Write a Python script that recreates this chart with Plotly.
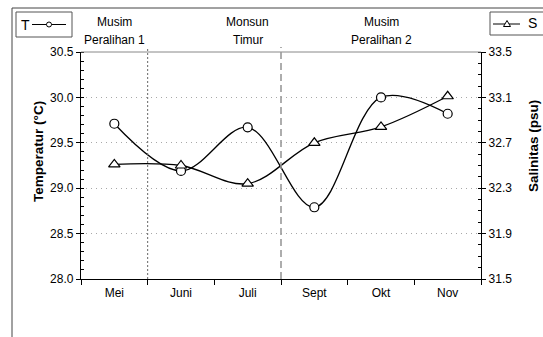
import plotly.graph_objects as go

# Monthly observations
months = ["Mei", "Juni", "Juli", "Sept", "Okt", "Nov"]
temperature = [29.71, 29.19, 29.67, 28.79, 30.00, 29.82]   # °C
salinity = [32.51, 32.50, 32.34, 32.70, 32.84, 33.11]      # psu

seasons = [("Mei", "Musim", "Peralihan 1"),
           ("Juli", "Monsun", "Timur"),
           ("Okt", "Musim", "Peralihan 2")]

W, H = 543, 337
L, R, T, B = 81, 481, 52, 279  # plot area in pixels


def px(xp):
    return (xp - L) / (R - L)


def py(yp):
    return (B - yp) / (B - T)


FONT = "Liberation Sans, Arial, sans-serif"

fig = go.Figure()

fig.add_trace(go.Scatter(
    x=months, y=temperature, name="T", mode="lines+markers",
    line=dict(color="black", width=1.3, shape="spline", smoothing=1.0),
    marker=dict(symbol="circle", size=9, color="white",
                line=dict(color="black", width=1.2)),
    yaxis="y", showlegend=False))

fig.add_trace(go.Scatter(
    x=months, y=salinity, name="S", mode="lines+markers",
    line=dict(color="black", width=1.3, shape="spline", smoothing=1.0),
    marker=dict(symbol="triangle-up", size=10, color="white",
                line=dict(color="black", width=1.2)),
    yaxis="y2", showlegend=False))

shapes = []
annotations = []

# outer frame (open to the right and bottom)
shapes.append(dict(type="rect", xref="paper", yref="paper",
                   x0=px(12), x1=px(600), y0=py(8), y1=py(400),
                   line=dict(color="#444", width=1)))
# top border of the plot area
shapes.append(dict(type="line", xref="paper", yref="paper",
                   x0=0, x1=1, y0=1, y1=1,
                   line=dict(color="#888", width=1)))
# season separators
shapes.append(dict(type="line", xref="x", yref="paper", x0=0.5, x1=0.5,
                   y0=0, y1=py(47), line=dict(color="#666", width=1, dash="2px,2px")))
shapes.append(dict(type="line", xref="x", yref="paper", x0=2.5, x1=2.5,
                   y0=0, y1=py(47), line=dict(color="#999", width=1.6, dash="7px,4px")))

# season labels
for m, l1, l2 in seasons:
    annotations.append(dict(x=m, xref="x", y=py(22), yref="paper", text=l1,
                            showarrow=False, font=dict(size=12, family=FONT, color="black"),
                            xanchor="center", yanchor="middle"))
    annotations.append(dict(x=m, xref="x", y=py(40), yref="paper", text=l2,
                            showarrow=False, font=dict(size=12, family=FONT, color="black"),
                            xanchor="center", yanchor="middle"))

# legend key: T
shapes.append(dict(type="rect", xref="paper", yref="paper",
                   x0=px(16), x1=px(72), y0=py(37), y1=py(12),
                   line=dict(color="#555", width=1), fillcolor="white"))
shapes.append(dict(type="line", xref="paper", yref="paper",
                   x0=px(32), x1=px(66), y0=py(24.5), y1=py(24.5),
                   line=dict(color="black", width=1)))
shapes.append(dict(type="circle", xref="paper", yref="paper",
                   x0=px(46.5), x1=px(51.5), y0=py(27), y1=py(22),
                   line=dict(color="black", width=1), fillcolor="white"))
annotations.append(dict(x=px(26), y=py(24.5), xref="paper", yref="paper", text="T",
                        showarrow=False, font=dict(size=14, family=FONT, color="black"),
                        xanchor="center", yanchor="middle"))

# legend key: S
shapes.append(dict(type="rect", xref="paper", yref="paper",
                   x0=px(490), x1=px(600), y0=py(35), y1=py(12),
                   line=dict(color="#555", width=1), fillcolor="white"))
shapes.append(dict(type="line", xref="paper", yref="paper",
                   x0=px(493), x1=px(520), y0=py(24), y1=py(24),
                   line=dict(color="black", width=1)))
tri = "M {} {} L {} {} L {} {} Z".format(px(503.5), py(26.5), px(510.5), py(26.5),
                                          px(507), py(20.5))
shapes.append(dict(type="path", xref="paper", yref="paper", path=tri,
                   line=dict(color="black", width=1), fillcolor="white"))
annotations.append(dict(x=px(532), y=py(23), xref="paper", yref="paper", text="S",
                        showarrow=False, font=dict(size=14, family=FONT, color="black"),
                        xanchor="center", yanchor="middle"))

# axis titles
annotations.append(dict(x=px(38), y=py(152), xref="paper", yref="paper",
                        text="<b>Temperatur (°C)</b>", textangle=-90, showarrow=False,
                        font=dict(size=13.5, family=FONT, color="black"),
                        xanchor="center", yanchor="middle"))
annotations.append(dict(x=px(533), y=py(146), xref="paper", yref="paper",
                        text="<b>Salinitas (psu)</b>", textangle=-90, showarrow=False,
                        font=dict(size=13.5, family=FONT, color="black"),
                        xanchor="center", yanchor="middle"))

fig.update_layout(
    width=W, height=H,
    margin=dict(l=L, r=W - R, t=T, b=H - B, pad=0),
    paper_bgcolor="white", plot_bgcolor="white",
    font=dict(family=FONT, size=12, color="black"),
    shapes=shapes, annotations=annotations,
    xaxis=dict(type="category", categoryorder="array", categoryarray=months,
               range=[-0.5, 5.5], tickson="boundaries", ticks="outside",
               ticklen=5, tickcolor="black", showline=True, linecolor="black",
               linewidth=1.3, showgrid=False, zeroline=False,
               ticklabelstandoff=2,
               tickfont=dict(size=12, family=FONT)),
    yaxis=dict(range=[28, 30.5], dtick=0.5, tick0=28, tickformat=".1f",
               ticks="outside", ticklen=4, tickcolor="black",
               showline=True, linecolor="black", linewidth=1.3,
               showgrid=True, gridcolor="#a8a8a8", griddash="1px,4px", gridwidth=1,
               zeroline=False, tickfont=dict(size=12, family=FONT),
               minor=dict(dtick=0.1, ticks="inside", ticklen=3,
                          tickcolor="black", showgrid=False)),
    yaxis2=dict(range=[31.5, 33.5], dtick=0.4, tick0=31.5, tickformat=".1f",
                overlaying="y", side="right",
                ticks="outside", ticklen=4, tickcolor="black",
                showline=True, linecolor="black", linewidth=1.3,
                showgrid=False, zeroline=False, tickfont=dict(size=12, family=FONT),
                minor=dict(dtick=0.1, ticks="inside", ticklen=3,
                           tickcolor="black", showgrid=False)),
)

fig.write_html("out.html")
